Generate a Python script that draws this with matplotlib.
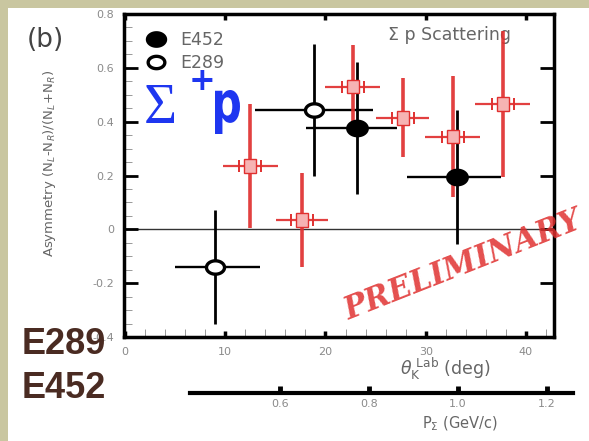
import numpy as np
import matplotlib
matplotlib.use("Agg")
import matplotlib.pyplot as plt
from matplotlib.patches import Rectangle, PathPatch
from matplotlib.lines import Line2D
from matplotlib.path import Path
from matplotlib.textpath import TextPath
from matplotlib.font_manager import FontProperties
from matplotlib.transforms import Affine2D

# E289 (open circles)
e289_x = [9.0, 18.9]
e289_y = [-0.14, 0.445]
e289_xlo = [4.0, 5.9]
e289_xhi = [4.5, 5.8]
e289_yerr = [0.21, 0.245]

# E452 (filled circles)
e452_x = [23.1, 33.1]
e452_y = [0.377, 0.195]
e452_xlo = [5.0, 5.0]
e452_xhi = [4.0, 4.4]
e452_yerr = [0.245, 0.248]

# new (red) points
red_x = [12.5, 17.65, 22.7, 27.7, 32.7, 37.7]
red_y = [0.236, 0.035, 0.53, 0.414, 0.344, 0.466]
red_xerr = [2.75, 2.6, 2.75, 2.65, 2.75, 2.75]
red_yerr = [0.23, 0.176, 0.155, 0.147, 0.225, 0.27]

yticks = [-0.4, -0.2, 0, 0.2, 0.4, 0.6, 0.8]
ytick_labels = ["-0.4", "-0.2", "0", "0.2", "0.4", "0.6", "0.8"]
xticks = [0, 10, 20, 30, 40]
p_ticks = [0.6, 0.8, 1.0, 1.2]
p_labels = ["0.6", "0.8", "1.0", "1.2"]

RED = "#e0302f"
GRAY = "#666666"
LIGHT = "#8a8a8a"
BLUE = "#1e36f0"

# slightly wide ellipse marker, like the scanned circles
t = np.linspace(0, 2 * np.pi, 60)
ellipse = Path(np.column_stack([1.35 * np.cos(t), np.sin(t)]), closed=True)

fig = plt.figure(figsize=(5.89, 4.41), dpi=100)
fig.patch.set_facecolor("white")
# beige frame strips of the slide
fig.patches.append(Rectangle((0, 0), 8 / 589, 1, transform=fig.transFigure,
                             facecolor="#c9c6a0", edgecolor="none", zorder=0))
fig.patches.append(Rectangle((0, 1 - 8 / 441), 1, 8 / 441, transform=fig.transFigure,
                             facecolor="#c9c6a0", edgecolor="none", zorder=0))

ax = fig.add_axes([124 / 589, 1 - 337 / 441, 430 / 589, 323 / 441])
ax.set_xlim(-0.1, 42.8)
ax.set_ylim(-0.4, 0.8)
ax.axhline(0, color="#333333", lw=1.0, zorder=1)

# black points
for xs, ys, xlo, xhi, ye, face, ms in [
        (e289_x, e289_y, e289_xlo, e289_xhi, e289_yerr, "white", 13),
        (e452_x, e452_y, e452_xlo, e452_xhi, e452_yerr, "black", 14)]:
    eb = ax.errorbar(xs, ys, xerr=[xlo, xhi], yerr=ye, fmt="none",
                     ecolor="black", capsize=0, zorder=3)
    eb[2][0].set_linewidth(1.7)
    eb[2][1].set_linewidth(2.0)
    ax.plot(xs, ys, ls="none", marker=ellipse, ms=ms, mfc=face, mec="black",
            mew=2.4, zorder=5)

# red points with systematic boxes
eb = ax.errorbar(red_x, red_y, xerr=red_xerr, yerr=red_yerr, fmt="none",
                 ecolor=RED, capsize=0, alpha=0.92, zorder=4)
eb[2][0].set_linewidth(1.6)
eb[2][1].set_linewidth(2.6)
for x, y in zip(red_x, red_y):
    ax.add_patch(Rectangle((x - 0.6, y - 0.025), 1.2, 0.05, facecolor="#f6b3b3",
                           edgecolor=RED, lw=1.0, zorder=6))
    ax.plot([x - 1.1, x + 1.1], [y, y], ls="none", marker="|", ms=9,
            mew=1.4, color=RED, zorder=6)

# axes styling
for s in ax.spines.values():
    s.set_linewidth(2.5)
ax.set_yticks(yticks)
ax.set_yticklabels(ytick_labels)
ax.set_yticks(np.arange(-0.4, 0.81, 0.05), minor=True)
ax.set_xticks(xticks)
ax.set_xticklabels([str(v) for v in xticks])
ax.set_xticks(np.arange(0, 43, 2), minor=True)
ax.tick_params(which="major", direction="in", top=True, right=True,
               labelsize=8, labelcolor=LIGHT, pad=7)
ax.tick_params(axis="y", which="major", length=10, width=2)
ax.tick_params(axis="x", which="major", length=4, width=2.5)
ax.tick_params(which="minor", direction="in", length=6, width=0.7,
               color="#999999", top=False, right=False)

# legend
handles = [Line2D([], [], ls="none", marker=ellipse, ms=13, mfc="black",
                  mec="black", mew=2.4),
           Line2D([], [], ls="none", marker=ellipse, ms=12, mfc="white",
                  mec="black", mew=2.4)]
ax.legend(handles, ["E452", "E289"], loc="upper left",
          bbox_to_anchor=(0.03, 0.98), frameon=False, handlelength=1.0,
          handletextpad=0.9, labelspacing=0.3, fontsize=12.5, labelcolor=GRAY,
          borderaxespad=0.2)

ax.text(0.615, 0.935, "Σ p Scattering", transform=ax.transAxes, fontsize=12.5,
        color=GRAY, ha="left", va="center")
ax.text(0.79, 0.22, "PRELIMINARY", transform=ax.transAxes, rotation=21.5,
        fontsize=22, color=RED, alpha=0.85, ha="center", va="center",
        family="DejaVu Serif", weight="bold", style="italic", clip_on=False)

# lower momentum axis
ax2 = fig.add_axes([190 / 589, 1 - 393 / 441, 383 / 589, 0.001])
ax2.set_facecolor("none")
ax2.set_xlim(0.398, 1.258)
ax2.set_yticks([])
for k in ["top", "left", "right"]:
    ax2.spines[k].set_visible(False)
ax2.spines["bottom"].set_linewidth(3.0)
ax2.set_xticks(p_ticks)
ax2.set_xticklabels(p_labels)
ax2.tick_params(axis="x", direction="in", length=5, width=3.5, labelsize=8,
                labelcolor=LIGHT, pad=4)

# labels
fig.text(50 / 589, 1 - 163 / 441, r"Asymmetry (N$_L$-N$_R$)/(N$_L$+N$_R$)",
         rotation=90, fontsize=9.5, color=GRAY, ha="center", va="center")
fig.text(445 / 589, 1 - 369 / 441, r"$\theta_{\rm K}^{\ \rm Lab}$ (deg)",
         fontsize=12.5, color=GRAY, ha="center", va="center")
fig.text(460 / 589, 1 - 424 / 441, r"P$_\Sigma$ (GeV/c)", fontsize=10.5,
         color=GRAY, ha="center", va="center")
fig.text(27 / 589, 1 - 40 / 441, "(b)", fontsize=19, color="#444444",
         ha="left", va="center")

# blue Sigma+ p label
fig.text(144 / 589, 1 - 123 / 441, "Σ", fontsize=41, color=BLUE,
         family="Liberation Serif", ha="left", va="baseline")
fig.text(189 / 589, 1 - 81 / 441, "+", fontsize=23, color=BLUE,
         weight="bold", ha="left", va="center")
# condensed bold "p": glyph outline squeezed horizontally
p_path = TextPath((0, 0), "p", size=58, prop=FontProperties(family="DejaVu Sans",
                                                           weight="bold"))
ext = p_path.get_extents()
sx = 25 / ext.width
sy = 44 / ext.height
p_tr = Affine2D().translate(-ext.x0, -ext.y0).scale(sx, sy).translate(215, 441 - 134)
fig.patches.append(PathPatch(p_path, transform=p_tr, facecolor=BLUE,
                             edgecolor="none", zorder=5))

# experiment tags
fig.text(22 / 589, 1 - 354 / 441, "E289", fontsize=26, weight="bold",
         color="#4a2b22", family="Liberation Sans", ha="left", va="baseline")
fig.text(22 / 589, 1 - 398 / 441, "E452", fontsize=26, weight="bold",
         color="#4a2b22", family="Liberation Sans", ha="left", va="baseline")

fig.savefig("out.png", dpi=100)
